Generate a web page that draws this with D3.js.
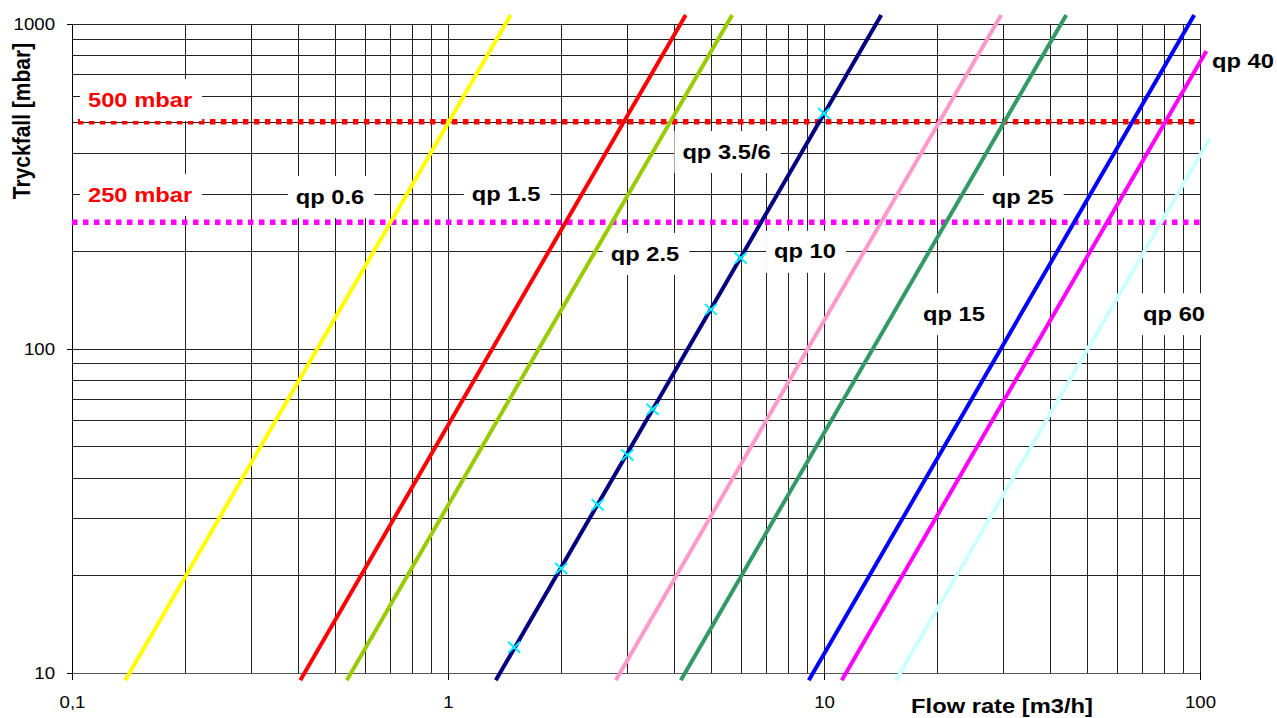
<!DOCTYPE html>
<html>
<head>
<meta charset="utf-8">
<script src="https://cdn.jsdelivr.net/npm/d3@7"></script>
<style>
    body { margin: 0; background: #fff; }
    text { font-family: Arial, "Liberation Sans", sans-serif; }
</style>
</head>
<body>
<svg id="chart" width="1277" height="718"></svg>
<script>
// axis ticks
const flowTicks = [0.1, 1, 10, 100]
const flowTickLabels = ['0,1', '1', '10', '100']
const dropTicks = [10, 100, 1000]
const dropTickLabels = ['10', '100', '1000']

// meter curves, each one a straight line in log-log (start and end point)
const seriesNames = ['qp 0.6', 'qp 1.5', 'qp 2.5', 'qp 3.5/6', 'qp 10', 'qp 15', 'qp 25', 'qp 40', 'qp 60']
const seriesColors = ['#FFFF00', '#FF0000', '#99CC00', '#000080', '#FF99CC', '#339966', '#0000FF', '#FF00FF', '#CCFFFF']
const flowLow = [0.1386, 0.4048, 0.5381, 1.340, 2.794, 4.161, 9.112, 11.15, 15.53]
const dropLow = [9.5, 9.5, 9.5, 9.5, 9.5, 9.5, 9.5, 9.5, 9.5]
const flowHigh = [1.468, 4.288, 5.700, 14.20, 29.60, 44.08, 96.52, 104, 106]
const dropHigh = [1066, 1066, 1066, 1066, 1066, 1066, 1066, 826, 443]

// where the curve names sit
const labelFlow = [0.4856, 1.427, 3.342, 5.505, 8.903, 22.17, 33.77, 130.1, 85.3]
const labelDrop = [295, 301.5, 197, 406, 200, 128.5, 295, 774.5, 128.5]

// measured points on qp 3.5/6
const measuredFlow = [1.5, 2, 2.5, 3, 3.5, 5, 6, 10]
const measuredDrop = [12, 21, 33, 47, 65, 132, 190, 530]

// limit lines
const limitNames = ['500 mbar', '250 mbar']
const limitDrop = [500, 245]
const limitStart = [0.1037, 0.1]
const limitColors = ['#FF0000', '#FF00FF']
const limitLabelFlow = [0.1517, 0.1517]
const limitLabelDrop = [587.4, 299.4]

const xTitle = 'Flow rate [m3/h]'
const yTitle = 'Tryckfall [mbar]'

const svg = d3.select('#chart')
const x = d3.scaleLog().domain([0.1, 100]).range([72, 1200])
const y = d3.scaleLog().domain([10, 1000]).range([673, 24])
const stretch = 1.13

// grid
svg.append('g')
    .attr('transform', `translate(0,${y(10)})`)
    .call(d3.axisBottom(x).tickValues(x.ticks()).tickSize(y(1000) - y(10)).tickFormat(''))
    .call(g => g.select('.domain').remove())
    .selectAll('line').attr('stroke', '#222').attr('shape-rendering', 'crispEdges')
svg.append('g')
    .attr('transform', `translate(${x(0.1)},0)`)
    .call(d3.axisLeft(y).tickValues(y.ticks()).tickSize(x(0.1) - x(100)).tickFormat(''))
    .call(g => g.select('.domain').remove())
    .selectAll('line').attr('stroke', '#222').attr('shape-rendering', 'crispEdges')

// axes
const xAxis = svg.append('g')
    .attr('transform', `translate(0,${y(10)})`)
    .call(d3.axisBottom(x).tickValues(flowTicks).tickSize(7).tickSizeOuter(0).tickFormat((d, i) => flowTickLabels[i]))
xAxis.select('.domain').attr('stroke', '#555').attr('shape-rendering', 'crispEdges')
xAxis.selectAll('line').attr('stroke', '#000').attr('shape-rendering', 'crispEdges')
xAxis.selectAll('text')
    .attr('y', 35).attr('dy', 0)
    .attr('font-size', '16.5px').attr('fill', '#000')
    .attr('transform', `scale(${stretch},1)`)

const yAxis = svg.append('g')
    .attr('transform', `translate(${x(0.1)},0)`)
    .call(d3.axisLeft(y).tickValues(dropTicks).tickSize(5).tickSizeOuter(0).tickPadding(10).tickFormat((d, i) => dropTickLabels[i]))
yAxis.select('.domain').attr('stroke', '#000').attr('shape-rendering', 'crispEdges')
yAxis.selectAll('line').attr('stroke', '#000').attr('shape-rendering', 'crispEdges')
yAxis.selectAll('text')
    .attr('dy', '0.36em')
    .attr('font-size', '16.5px').attr('fill', '#000')
    .attr('transform', `scale(${stretch},1)`)

svg.append('text')
    .attr('transform', `translate(1002,705) scale(${stretch},1)`)
    .attr('text-anchor', 'middle').attr('dy', '0.36em')
    .attr('font-size', '21px').attr('font-weight', 'bold')
    .text(xTitle)
svg.append('text')
    .attr('transform', `translate(22,121) scale(1.1,1) rotate(-90)`)
    .attr('text-anchor', 'middle').attr('dy', '0.36em')
    .attr('font-size', '21px').attr('font-weight', 'bold')
    .text(yTitle)

function drawLimit(i) {
    svg.append('line')
        .attr('x1', x(limitStart[i])).attr('x2', x(100))
        .attr('y1', y(limitDrop[i])).attr('y2', y(limitDrop[i]))
        .attr('stroke', limitColors[i]).attr('stroke-width', 5.5)
        .attr('stroke-dasharray', '5.5,5.5')
}

function boxedLabel(label, cx, cy, color) {
    const g = svg.append('g')
    const rect = g.append('rect').attr('fill', '#fff')
    const t = g.append('text')
        .attr('transform', `translate(${cx},${cy}) scale(${stretch},1)`)
        .attr('text-anchor', 'middle').attr('dy', '0.36em')
        .attr('font-size', '21px').attr('font-weight', 'bold')
        .attr('fill', color)
        .text(label)
    const w = t.node().getComputedTextLength() * stretch
    rect.attr('x', cx - w / 2 - 8).attr('width', w + 18)
        .attr('y', cy - 20).attr('height', 42)
}

drawLimit(0)
limitNames.forEach((name, i) => {
    boxedLabel(name, x(limitLabelFlow[i]), y(limitLabelDrop[i]), '#FF0000')
})
seriesNames.forEach((name, i) => {
    boxedLabel(name, x(labelFlow[i]), y(labelDrop[i]), '#000')
})
drawLimit(1)

const line = d3.line().x(d => x(d[0])).y(d => y(d[1]))
seriesNames.forEach((name, i) => {
    svg.append('path')
        .datum([[flowLow[i], dropLow[i]], [flowHigh[i], dropHigh[i]]])
        .attr('d', line)
        .attr('fill', 'none')
        .attr('stroke', seriesColors[i])
        .attr('stroke-width', 4)
})

svg.append('g').selectAll('path')
    .data(measuredFlow.map((q, i) => [q, measuredDrop[i]]))
    .join('path')
    .attr('transform', d => `translate(${x(d[0])},${y(d[1])})`)
    .attr('d', 'M-6,-5.5L6,5.5M-6,5.5L6,-5.5')
    .attr('stroke', '#00F0FF')
    .attr('stroke-width', 2)
    .attr('fill', 'none')
</script>
</body>
</html>
